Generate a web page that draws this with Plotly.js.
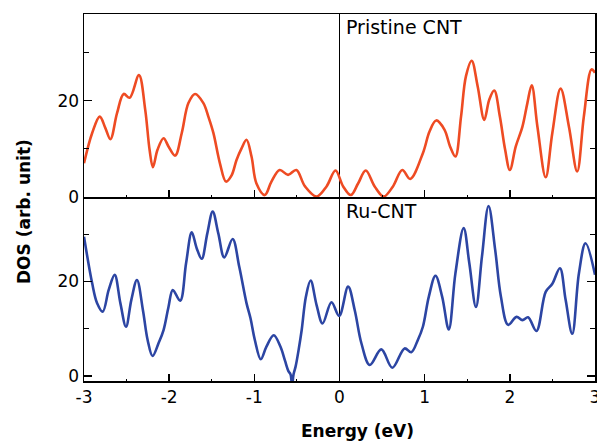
<!DOCTYPE html>
<html>
<head>
<meta charset="utf-8">
<script src="https://cdn.plot.ly/plotly-3.0.1.min.js"></script>
<style>html,body{margin:0;padding:0;background:#fff;}</style>
</head>
<body>
<div id="chart" style="width:597px;height:443px;"></div>
<script>
// Pristine CNT density of states (top panel)
const pristineEnergy = [-3.0,-2.904,-2.815,-2.749,-2.690,-2.612,-2.534,-2.464,-2.355,-2.281,-2.230,-2.191,-2.137,-2.066,-2.008,-1.930,-1.852,-1.774,-1.696,-1.598,-1.540,-1.481,-1.404,-1.333,-1.267,-1.209,-1.150,-1.092,-1.033,-0.975,-0.877,-0.799,-0.702,-0.604,-0.507,-0.405,-0.269,-0.152,-0.047,0.043,0.133,0.218,0.308,0.413,0.519,0.628,0.737,0.830,0.979,1.057,1.135,1.232,1.298,1.361,1.427,1.485,1.552,1.622,1.700,1.758,1.817,1.883,1.945,2.000,2.070,2.148,2.206,2.257,2.324,2.421,2.499,2.596,2.694,2.791,2.869,2.959,3.0];
const pristineDOS = [7.0,13.3,16.7,14.3,12.0,17.4,21.4,20.6,25.3,18.1,9.8,6.2,9.8,12.2,10.5,8.6,13.3,19.5,21.4,19.5,16.7,13.3,7.0,3.2,4.5,7.7,10.1,11.9,8.4,2.8,0.4,3.2,5.6,4.6,5.6,2.2,0.1,2.2,5.5,2.2,0.4,2.8,5.5,2.2,0.1,2.2,5.6,3.75,9.1,13.6,15.9,14.0,10.5,8.4,16.7,25.1,28.3,23.0,16.0,20.2,22.1,16.7,9.8,5.6,10.5,14.6,19.5,23.2,14.6,4.1,13.3,22.5,14.6,5.3,16.7,26.5,25.8];

// Ru-CNT density of states (bottom panel)
const ruEnergy = [-3.0,-2.904,-2.846,-2.780,-2.710,-2.640,-2.573,-2.507,-2.444,-2.378,-2.308,-2.253,-2.195,-2.125,-2.066,-2.008,-1.957,-1.871,-1.801,-1.735,-1.676,-1.618,-1.552,-1.489,-1.423,-1.353,-1.255,-1.177,-1.092,-1.045,-0.994,-0.924,-0.858,-0.772,-0.694,-0.640,-0.600,-0.575,-0.557,-0.540,-0.515,-0.480,-0.444,-0.394,-0.339,-0.269,-0.199,-0.094,-0.004,0.101,0.179,0.257,0.355,0.491,0.620,0.764,0.842,0.920,0.979,1.049,1.127,1.205,1.283,1.361,1.458,1.524,1.602,1.673,1.750,1.828,1.895,1.980,2.078,2.148,2.214,2.312,2.421,2.499,2.588,2.655,2.733,2.811,2.889,3.0];
const ruDOS = [29.5,19.6,15.4,13.6,18.2,21.4,15.4,10.4,16.1,20.3,13.9,7.6,4.2,6.9,9.7,14.6,18.2,15.9,23.9,30.4,27.0,24.8,30.2,34.8,30.2,25.1,29.0,23.1,15.4,12.2,7.6,3.5,6.2,8.6,6.2,3.2,1.0,0.3,-2.0,0.3,2.0,5.5,9.7,16.8,20.2,15.0,11.1,15.6,12.7,18.9,13.9,6.9,2.3,5.6,1.7,5.8,5.0,7.6,10.4,16.8,21.2,16.8,9.8,21.7,31.3,23.9,14.6,25.3,36.0,26.7,16.8,10.8,12.5,11.8,12.4,9.5,17.8,19.5,22.8,16.1,8.9,21.7,28.1,21.4];

const yTickVals = [0, 20];
const yTickText = ['0', '20'];
const xTickVals = [-3, -2, -1, 0, 1, 2, 3];
const xTickText = ['-3', '-2', '-1', '0', '1', '2', '3'];

const panelLabels = ['Pristine CNT', 'Ru-CNT'];
const xTitle = 'Energy (eV)';
const yTitle = 'DOS (arb. unit)';

const orange = '#EE4B23';
const blue = '#2C45A3';
const tickFont = {family: 'DejaVu Sans, Arial, sans-serif', size: 17, color: '#000'};

const traces = [
  {x: pristineEnergy, y: pristineDOS, xaxis: 'x2', yaxis: 'y2', type: 'scatter', mode: 'lines',
   line: {color: orange, width: 2.6, shape: 'spline', smoothing: 1}, hoverinfo: 'skip'},
  {x: ruEnergy, y: ruDOS, xaxis: 'x', yaxis: 'y', type: 'scatter', mode: 'lines',
   line: {color: blue, width: 2.6, shape: 'spline', smoothing: 1}, hoverinfo: 'skip'}
];

const split = 184 / 367;
const xRange = [-3, 3];

function xAxis(anchor, labels, mirror) {
  return {
    anchor: anchor, domain: [0, 1], range: xRange,
    tickmode: 'array', tickvals: xTickVals, ticktext: xTickText,
    showticklabels: labels, tickfont: tickFont, ticklabeloverflow: 'allow',
    ticks: 'inside', ticklen: 7, tickwidth: 1.5, tickcolor: '#000',
    minor: {tickmode: 'linear', tick0: 0, dtick: 0.5, ticks: 'inside', ticklen: 2.5, tickwidth: 1, tickcolor: '#000'},
    showline: true, linecolor: '#000', linewidth: 1.5, mirror: mirror,
    showgrid: false, zeroline: true, zerolinecolor: '#000', zerolinewidth: 1.5
  };
}
function yAxis(anchor, domain, range) {
  return {
    anchor: anchor, domain: domain, range: range,
    tickmode: 'array', tickvals: yTickVals, ticktext: yTickText,
    tickfont: tickFont,
    ticks: 'inside', ticklen: 8, tickwidth: 1.5, tickcolor: '#000',
    minor: {tickmode: 'linear', tick0: 0, dtick: 10, ticks: 'inside', ticklen: 5, tickwidth: 1, tickcolor: '#000'},
    showline: true, linecolor: '#000', linewidth: 1.5, mirror: 'ticks',
    showgrid: false, zeroline: false
  };
}

const layout = {
  width: 597, height: 443,
  margin: {l: 84, r: 2, t: 14, b: 62, pad: 0},
  paper_bgcolor: '#fff', plot_bgcolor: 'rgba(0,0,0,0)',
  showlegend: false,
  xaxis: xAxis('y', true, false),
  xaxis2: Object.assign(xAxis('y2', false, true), {matches: 'x'}),
  xaxis3: {overlaying: 'x2', anchor: 'y2', side: 'top', range: xRange,
           tickmode: 'linear', tick0: 0, dtick: 0.5, ticks: 'inside', ticklen: 2.5, tickwidth: 1, tickcolor: '#000',
           showticklabels: false, showline: false, showgrid: false, zeroline: false},
  yaxis: yAxis('x', [0, split], [-1.1, 37.9]),
  yaxis2: yAxis('x2', [split, 1], [0, 38]),
  annotations: [
    {text: panelLabels[0], xref: 'paper', yref: 'paper', x: 0.509, y: 1 - (27 - 14) / 367,
     xanchor: 'left', yanchor: 'middle', showarrow: false,
     font: {family: 'DejaVu Sans, Arial, sans-serif', size: 19, color: '#000'}},
    {text: panelLabels[1], xref: 'paper', yref: 'paper', x: 0.509, y: 1 - (211 - 14) / 367,
     xanchor: 'left', yanchor: 'middle', showarrow: false,
     font: {family: 'DejaVu Sans, Arial, sans-serif', size: 19, color: '#000'}},
    {text: xTitle, xref: 'paper', yref: 'paper', x: (357 - 84) / 511, y: 1 - (442 - 14) / 367,
     xanchor: 'center', yanchor: 'bottom', showarrow: false, borderpad: 0,
     font: {family: 'DejaVu Sans, Arial, sans-serif', size: 17, color: '#000', weight: 'bold'}},
    {text: yTitle, xref: 'paper', yref: 'paper', x: (24 - 84) / 511, y: 1 - (212 - 14) / 367,
     xanchor: 'center', yanchor: 'middle', textangle: -90, showarrow: false,
     font: {family: 'DejaVu Sans, Arial, sans-serif', size: 17, color: '#000', weight: 'bold'}}
  ]
};

Plotly.newPlot('chart', traces, layout, {staticPlot: true, displayModeBar: false});
</script>
</body>
</html>
